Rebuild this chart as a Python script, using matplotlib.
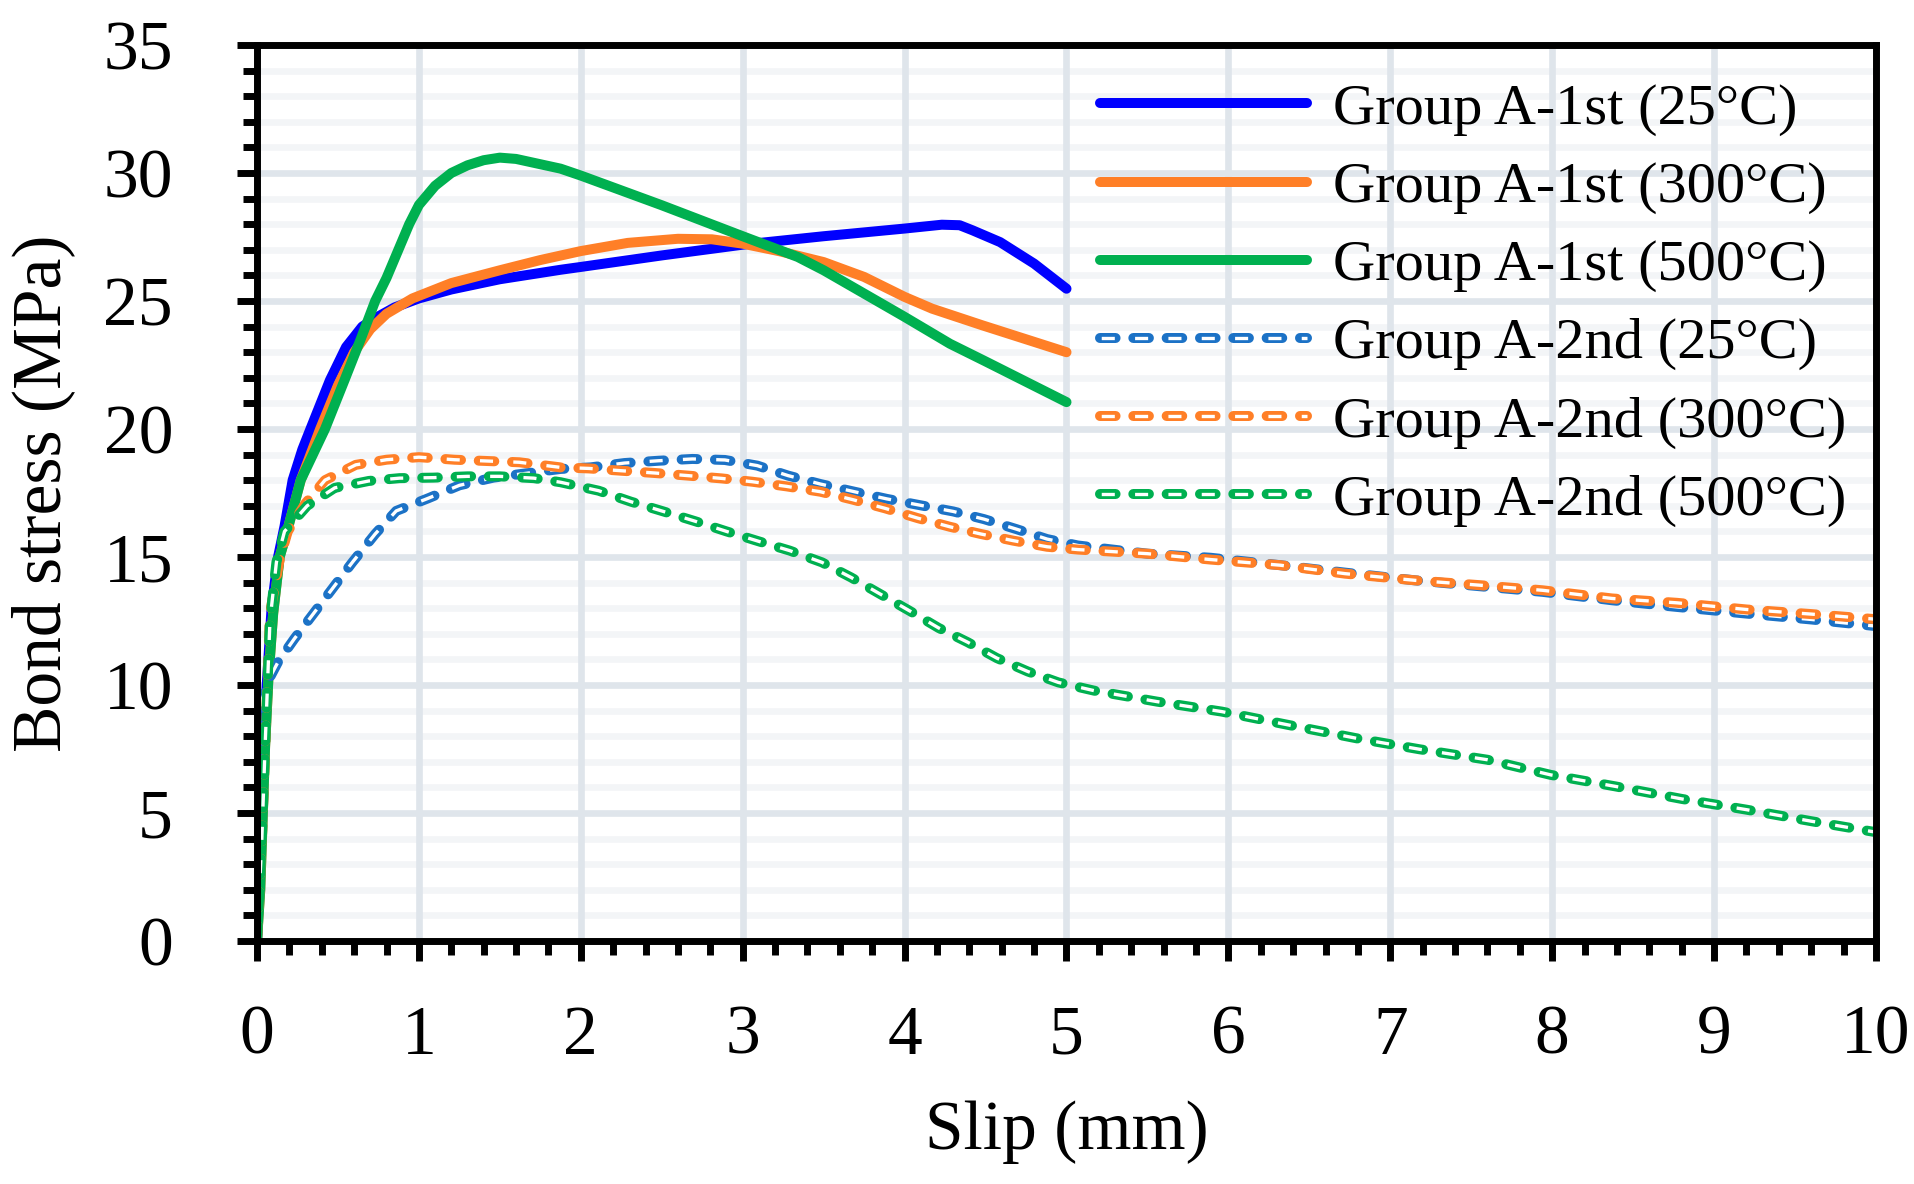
import matplotlib

matplotlib.use("Agg")
import matplotlib.pyplot as plt
from matplotlib.legend_handler import HandlerTuple
from matplotlib.ticker import MultipleLocator

# slip (mm) / bond stress (MPa)
a1_25_x = [0, 0.02, 0.04, 0.06, 0.09, 0.13, 0.17, 0.22, 0.28, 0.33, 0.45, 0.55, 0.65, 0.75, 0.85,
           1.0, 1.2, 1.5, 1.875, 2.0, 2.5, 3.0, 3.5, 4.0, 4.23, 4.34, 4.42, 4.59, 4.8, 5.0]
a1_25_y = [0, 3, 7, 10, 13, 15, 16.2, 18, 19.2, 20.0, 21.9, 23.2, 24.0, 24.4, 24.75,
           25.1, 25.45, 25.85, 26.22, 26.33, 26.78, 27.2, 27.53, 27.83, 27.98, 27.96, 27.76, 27.3, 26.46, 25.48]

a1_300_x = [0, 0.02, 0.05, 0.07, 0.1, 0.14, 0.19, 0.27, 0.39, 0.5, 0.6, 0.7, 0.8, 0.96, 1.2, 1.5,
            1.75, 2.0, 2.29, 2.6, 2.81, 3.0, 3.23, 3.5, 3.75, 4.0, 4.17, 4.48, 5.0]
a1_300_y = [0, 2, 7.6, 10.2, 12.8, 15.0, 16.1, 18.0, 20.0, 21.7, 23.0, 23.9, 24.5, 25.1, 25.7, 26.2,
            26.6, 26.95, 27.27, 27.43, 27.41, 27.24, 26.94, 26.52, 25.94, 25.16, 24.7, 24.05, 23.0]

a1_500_x = [0, 0.02, 0.05, 0.07, 0.1, 0.14, 0.19, 0.27, 0.42, 0.54, 0.64, 0.73, 0.8, 0.88, 0.94,
            1.0, 1.1, 1.2, 1.3, 1.4, 1.5, 1.6, 1.875, 2.0, 2.5, 3.0, 3.34, 3.5, 3.75, 4.0, 4.28, 4.5, 5.0]
a1_500_y = [0, 2, 7.6, 10.2, 12.8, 15.0, 16.1, 18.0, 20.0, 21.9, 23.5, 25.0, 25.9, 27.1, 28.0,
            28.75, 29.5, 30.0, 30.3, 30.5, 30.6, 30.55, 30.17, 29.9, 28.74, 27.53, 26.72, 26.2, 25.29, 24.38, 23.33, 22.64, 21.05]

a2_25_x = [0, 0.01, 0.02, 0.03, 0.08, 0.13, 0.23, 0.35, 0.47, 0.59, 0.73, 0.86, 1.06, 1.25, 1.46, 1.64,
           1.875, 2.06, 2.27, 2.48, 2.69, 2.89, 3.09, 3.28, 3.48, 3.69, 3.89, 4.09, 4.3, 4.49, 4.69, 4.88,
           5.07, 5.5, 5.89, 6.32, 6.72, 7.15, 7.55, 7.94, 8.37, 8.77, 9.2, 9.6, 10.0]
a2_25_y = [0, 4, 7.5, 9.4, 10.3, 10.9, 11.8, 12.8, 13.8, 14.8, 15.9, 16.8, 17.3, 17.8, 18.1, 18.25,
           18.44, 18.5, 18.67, 18.76, 18.83, 18.79, 18.57, 18.18, 17.85, 17.55, 17.27, 17.03, 16.78, 16.48, 16.09, 15.7,
           15.45, 15.13, 14.97, 14.68, 14.39, 14.09, 13.86, 13.64, 13.31, 13.05, 12.79, 12.56, 12.3]

a2_300_x = [0, 0.03, 0.05, 0.08, 0.14, 0.19, 0.3, 0.42, 0.61, 0.8, 1.0, 1.22, 1.42, 1.62, 1.875,
            2.05, 2.25, 2.46, 2.66, 2.87, 3.06, 3.27, 3.48, 3.68, 3.88, 4.08, 4.28, 4.47, 4.67, 4.88,
            5.07, 5.5, 5.89, 6.32, 6.72, 7.15, 7.55, 7.94, 8.37, 8.77, 9.2, 9.6, 10.0]
a2_300_y = [0, 4, 7.6, 12.8, 14.9, 16.0, 17.1, 18.0, 18.6, 18.8, 18.9, 18.8, 18.75, 18.7, 18.5,
            18.46, 18.37, 18.28, 18.18, 18.07, 17.94, 17.76, 17.55, 17.24, 16.9, 16.52, 16.18, 15.9, 15.64, 15.4,
            15.29, 15.13, 14.9, 14.68, 14.35, 14.09, 13.9, 13.7, 13.38, 13.21, 12.95, 12.77, 12.57]

a2_500_x = [0, 0.03, 0.05, 0.08, 0.12, 0.17, 0.31, 0.48, 0.69, 0.88, 1.09, 1.3, 1.5, 1.71, 1.875,
            2.11, 2.31, 2.51, 2.71, 2.9, 3.1, 3.29, 3.49, 3.67, 3.85, 4.03, 4.21, 4.39, 4.57, 4.76, 4.95,
            5.17, 5.56, 5.96, 6.37, 6.79, 7.18, 7.6, 7.99, 8.39, 8.8, 9.2, 9.6, 10.0]
a2_500_y = [0, 4, 7.6, 12.5, 14.8, 16.0, 17.0, 17.7, 17.97, 18.08, 18.1, 18.15, 18.15, 18.08, 17.92,
            17.59, 17.16, 16.78, 16.39, 16.0, 15.61, 15.25, 14.79, 14.2, 13.55, 12.9, 12.23, 11.67, 11.05, 10.53, 10.1,
            9.78, 9.35, 8.96, 8.44, 7.92, 7.49, 7.08, 6.49, 6.04, 5.55, 5.13, 4.68, 4.25]

solid_series = [
    ("Group A-1st (25°C)", a1_25_x, a1_25_y, "#0000ff"),
    ("Group A-1st (300°C)", a1_300_x, a1_300_y, "#ff7f27"),
    ("Group A-1st (500°C)", a1_500_x, a1_500_y, "#00b050"),
]
dashed_series = [
    ("Group A-2nd (25°C)", a2_25_x, a2_25_y, "#1c72c6"),
    ("Group A-2nd (300°C)", a2_300_x, a2_300_y, "#ff7f27"),
    ("Group A-2nd (500°C)", a2_500_x, a2_500_y, "#00b050"),
]

plt.rcParams["font.family"] = ["Liberation Serif", "DejaVu Serif"]
plt.rcParams["lines.scale_dashes"] = False

W, H = 1915, 1184
fig = plt.figure(figsize=(W / 100, H / 100), dpi=100)
ax = fig.add_axes([257 / W, 1 - 941 / H, 1619 / W, 896 / H])

LW = 7.2
DASH_ON, DASH_OFF = 11.2, 12.8
IN_ON = 9.4
period = DASH_ON + DASH_OFF
delta = (DASH_ON - IN_ON) / 2

handles, labels = [], []
for lbl, xs, ys, col in solid_series:
    (ln,) = ax.plot(xs, ys, color=col, lw=LW, solid_capstyle="round",
                    solid_joinstyle="round", zorder=3)
    handles.append(ln)
    labels.append(lbl)

for lbl, xs, ys, col in dashed_series:
    # double-line dash: coloured outline with a white core
    (outer,) = ax.plot(xs, ys, color=col, lw=LW, linestyle=(0, (DASH_ON, DASH_OFF)),
                       dash_capstyle="round", dash_joinstyle="round", zorder=3)
    (inner,) = ax.plot(xs, ys, color="white", lw=2.4,
                       linestyle=(period - delta, (IN_ON, period - IN_ON)),
                       dash_capstyle="butt", zorder=3)
    handles.append((outer, inner))
    labels.append(lbl)

ax.set_xlim(0, 10)
ax.set_ylim(0, 35)
ax.xaxis.set_major_locator(MultipleLocator(1))
ax.xaxis.set_minor_locator(MultipleLocator(0.2))
ax.yaxis.set_major_locator(MultipleLocator(5))
ax.yaxis.set_minor_locator(MultipleLocator(1))

ax.grid(which="major", color="#dfe5eb", lw=4.8)
ax.grid(which="minor", axis="y", color="#f3f5f7", lw=4.8)
ax.set_axisbelow(True)
ax.yaxis.set_zorder(0.4)  # vertical gridlines over the minor horizontal ones

for sp in ax.spines.values():
    sp.set_linewidth(5)
    sp.set_color("black")
    sp.set_zorder(5)

ax.tick_params(which="major", length=14.4, width=5, direction="out", labelsize=50)
ax.tick_params(which="minor", length=10, width=5, direction="out")
ax.tick_params(axis="x", which="major", pad=32)
ax.tick_params(axis="y", which="major", pad=46)

ax.set_xlabel("Slip (mm)", fontsize=50)
ax.set_ylabel("Bond stress (MPa)", fontsize=50)
ax.xaxis.set_label_coords(0.5, -0.1775)
ax.yaxis.set_label_coords(-0.1124, 0.5)

ax.legend(handles, labels, handler_map={tuple: HandlerTuple(ndivide=1, pad=0)},
          loc="upper left", bbox_to_anchor=(1100 / W, 1 - 83 / H), bbox_transform=fig.transFigure,
          frameon=False, borderpad=0, borderaxespad=0, handlelength=3.55, handletextpad=0.44,
          labelspacing=0.43, fontsize=42)

fig.savefig("out.png", dpi=100)
